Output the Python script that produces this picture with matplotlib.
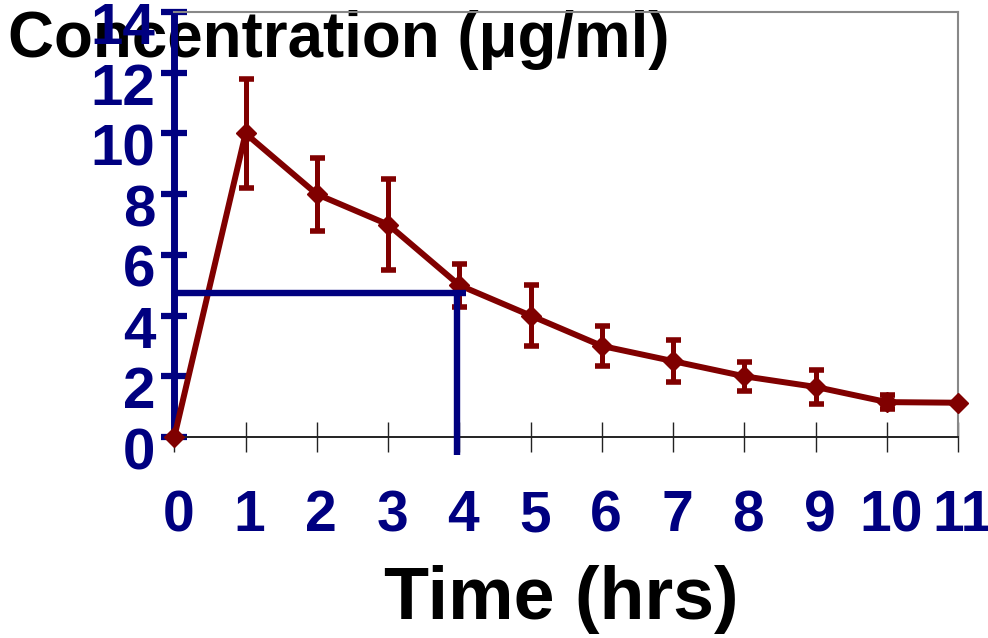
import numpy as np
import matplotlib
matplotlib.use('Agg')
import matplotlib.pyplot as plt
from matplotlib.transforms import ScaledTranslation

# data
time_hrs = [0, 1, 2, 3, 4, 5, 6, 7, 8, 9, 10, 11]
conc = [0, 10, 8, 7, 5, 4, 3, 2.5, 2, 1.65, 1.15, 1.13]
conc_err = [0, 1.8, 1.2, 1.5, 0.7, 1.0, 0.65, 0.7, 0.47, 0.55, 0.23, 0]
half_conc = 4.75
half_time = 3.97

navy = '#000080'
red = '#800000'

plt.rcParams['font.family'] = ['Liberation Sans', 'DejaVu Sans']
plt.rcParams['font.weight'] = 'bold'

fig = plt.figure(figsize=(9.88, 6.38), dpi=100)
ax = fig.add_axes([0.1764, 0.315, 0.7935, 0.6661])
ax.patch.set_facecolor('none')

# guide lines for the half-concentration point
ax.plot([0, 4.1], [half_conc, half_conc], color=navy, lw=4.6, zorder=5,
        clip_on=False, solid_capstyle='butt')
ax.plot([half_time, half_time], [half_conc, -0.6], color=navy, lw=4.6, zorder=5,
        clip_on=False, solid_capstyle='butt')

ax.errorbar(time_hrs, conc, yerr=conc_err, color=red, lw=4.3,
            marker='D', ms=10, elinewidth=3.6, capsize=5.4, capthick=4,
            zorder=4, clip_on=False)

ax.set_xlim(0, 11)
ax.set_ylim(0, 14)
ax.set_xticks(time_hrs)
ax.set_yticks(np.arange(0, 15, 2))

ax.spines['left'].set_color(navy)
ax.spines['left'].set_linewidth(5)
ax.spines['bottom'].set_color('#222222')
ax.spines['bottom'].set_linewidth(1.4)
ax.spines['top'].set_color('#888888')
ax.spines['top'].set_linewidth(1.5)
ax.spines['right'].set_color('#888888')
ax.spines['right'].set_linewidth(1.5)

ax.tick_params(axis='y', direction='inout', length=19, width=4.5, color=navy,
               labelcolor=navy, labelsize=42, pad=4)
ax.tick_params(axis='x', direction='inout', length=21, width=1, color='#222222',
               labelcolor=navy, labelsize=41, pad=27)

for lab in ax.get_yticklabels():
    lab.set_fontweight('bold')
    lab.set_transform(lab.get_transform() + ScaledTranslation(0, -0.11, fig.dpi_scale_trans))
for lab in ax.get_xticklabels():
    lab.set_fontweight('bold')
    lab.set_transform(lab.get_transform() + ScaledTranslation(0.04, 0, fig.dpi_scale_trans))

fig.text(8 / 988, 1 - 57 / 638, 'Concentration (μg/ml)', fontsize=45.8,
         fontweight='bold', color='black', va='baseline', ha='left', zorder=-1)
fig.text(561 / 988, 1 - 619 / 638, 'Time (hrs)', fontsize=53,
         fontweight='bold', color='black', va='baseline', ha='center')

fig.savefig('out.png', dpi=100, facecolor='white')
